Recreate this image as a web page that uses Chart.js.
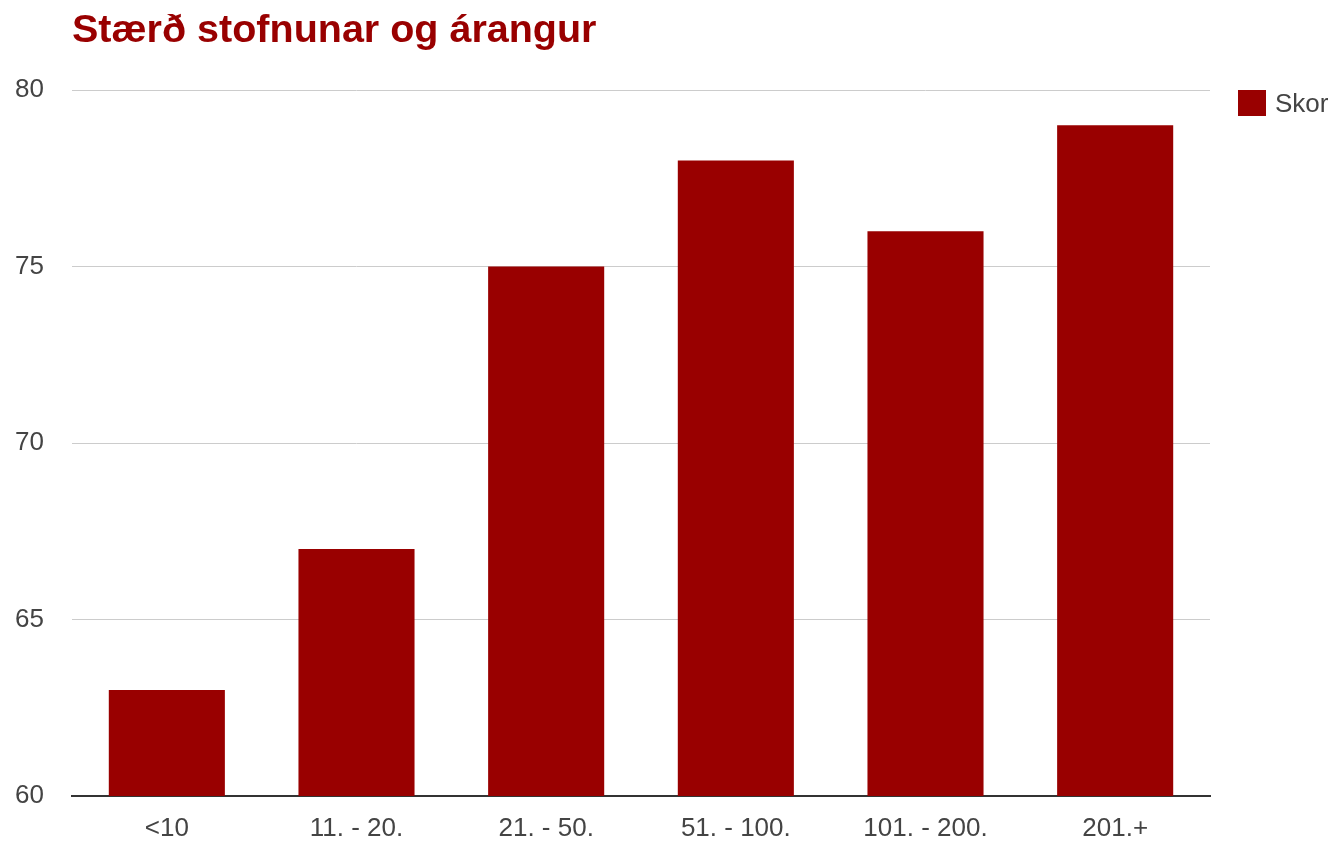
<!DOCTYPE html>
<html>
<head>
<meta charset="utf-8">
<script src="https://cdn.jsdelivr.net/npm/chart.js@4"></script>
<style>
  html, body { margin: 0; padding: 0; background: #fff; }
  #wrap { position: relative; width: 1339px; height: 843px; }
  #title {
    position: absolute; left: 72px; top: 8px; margin: 0;
    font: bold 39.5px "Liberation Sans", Arial, sans-serif; color: #990000;
    line-height: 40px;
  }
  #legend {
    position: absolute; left: 1238px; top: 90px;
    font: 26px "Liberation Sans", Arial, sans-serif; color: #444;
  }
  #legend .item { display: flex; align-items: center; height: 26px; }
  #legend .box { width: 28px; height: 26px; margin-right: 9px; }
</style>
</head>
<body>
<div id="wrap">
  <h1 id="title">Stærð stofnunar og árangur</h1>
  <canvas id="chart" width="1339" height="843"></canvas>
  <div id="legend"></div>
</div>
<script>
// categories and values
const categories = ['<10', '11. - 20.', '21. - 50.', '51. - 100.', '101. - 200.', '201.+'];
const skor = [63, 67, 75, 78, 76, 79];
const yTicks = [60, 65, 70, 75, 80];

const font = { family: '"Liberation Sans", Arial, sans-serif', size: 26 };

const ctx = document.getElementById('chart').getContext('2d');
const chart = new Chart(ctx, {
  type: 'bar',
  data: {
    labels: categories,
    datasets: [{
      label: 'Skor',
      data: skor,
      backgroundColor: '#990000',
      barPercentage: 0.612,
      categoryPercentage: 1
    }]
  },
  options: {
    responsive: false,
    animation: false,
    layout: { padding: { top: 90, left: 12, right: 129, bottom: 0 } },
    plugins: {
      legend: { display: false },
      tooltip: { enabled: false }
    },
    scales: {
      x: {
        afterFit: axis => { axis.height = 47; },
        grid: { display: false, drawTicks: false },
        border: { color: '#333', width: 2 },
        ticks: { color: '#444', padding: 17, font: font }
      },
      y: {
        min: yTicks[0],
        max: yTicks[yTicks.length - 1],
        afterBuildTicks: axis => { axis.ticks = yTicks.map(v => ({ value: v })); },
        afterFit: axis => { axis.width = 60; },
        grid: { color: '#ccc', drawTicks: false },
        border: { display: false },
        ticks: { color: '#444', padding: 28, font: font }
      }
    }
  }
});

// legend as html, from the dataset
const legendEl = document.getElementById('legend');
chart.data.datasets.forEach(ds => {
  const item = document.createElement('div');
  item.className = 'item';
  const box = document.createElement('span');
  box.className = 'box';
  box.style.background = ds.backgroundColor;
  const txt = document.createElement('span');
  txt.textContent = ds.label;
  item.appendChild(box);
  item.appendChild(txt);
  legendEl.appendChild(item);
});
</script>
</body>
</html>
